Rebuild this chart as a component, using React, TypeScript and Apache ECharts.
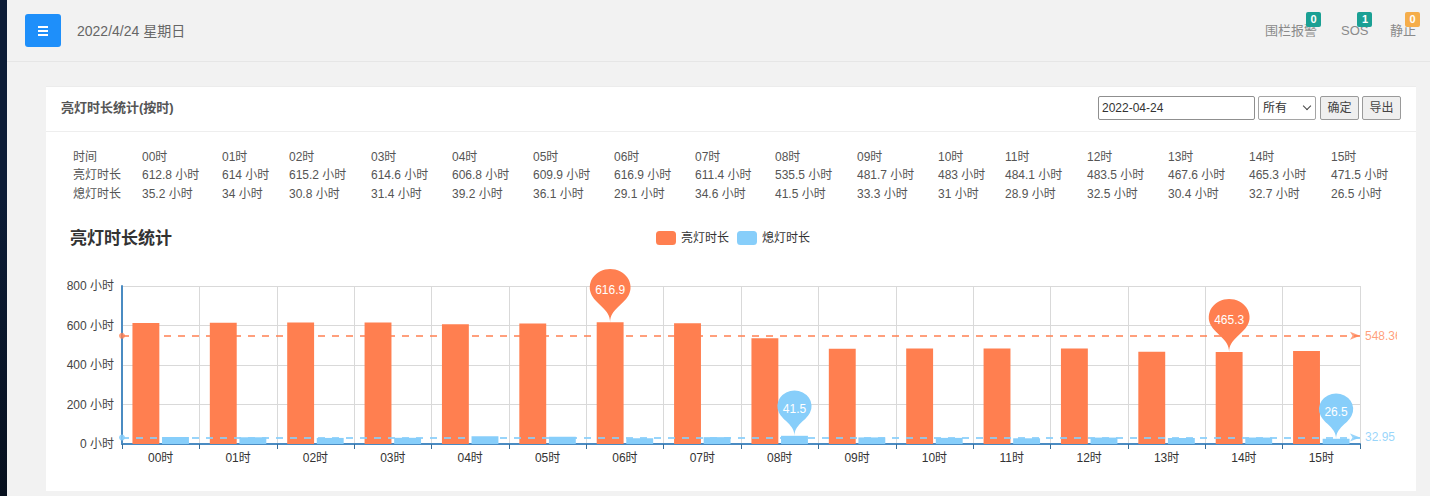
import React, { useEffect, useRef } from "react";
import * as echarts from "echarts";

const categories = ["00时", "01时", "02时", "03时", "04时", "05时", "06时", "07时", "08时", "09时", "10时", "11时", "12时", "13时", "14时", "15时"];
const onHours = [612.8, 614, 615.2, 614.6, 606.8, 609.9, 616.9, 611.4, 535.5, 481.7, 483, 484.1, 483.5, 467.6, 465.3, 471.5];
const offHours = [35.2, 34, 30.8, 31.4, 39.2, 36.1, 29.1, 34.6, 41.5, 33.3, 31, 28.9, 32.5, 30.4, 32.7, 26.5];
const seriesNames = ["亮灯时长", "熄灯时长"];
const rowLabels = ["时间", "亮灯时长", "熄灯时长"];
const unit = "小时";
const dateText = "2022/4/24 星期日";
const inputDate = "2022-04-24";
const badges = [
  { label: "围栏报警", count: "0" },
  { label: "SOS", count: "1" },
  { label: "静止", count: "0" },
];

// layout constants
const COL_LEFT = [142, 222, 289, 371, 452, 533, 614, 695, 775, 857, 938, 1005, 1087, 1168, 1249, 1331];
const FONT = '"Liberation Sans", Arial, "Noto Sans CJK SC", sans-serif';
const ORANGE = "#ff7f50";
const BLUE = "#87cefa";

function Chart() {
  const ref = useRef<HTMLDivElement>(null);
  useEffect(() => {
    if (!ref.current) return;
    const chart = echarts.init(ref.current, null, { renderer: "svg" });
    const axisColor = "#4a8bc2";
    chart.setOption({
      animation: false,
      textStyle: { fontFamily: FONT },
      title: {
        text: "亮灯时长统计",
        left: 9,
        top: 5,
        textStyle: { fontSize: 17, fontWeight: "bold", color: "#333", fontFamily: FONT },
      },
      legend: {
        data: seriesNames,
        left: 595,
        top: 6,
        itemWidth: 20,
        itemHeight: 14,
        itemGap: 8,
        textStyle: { fontSize: 12, color: "#333", fontFamily: FONT },
      },
      grid: { left: 66, right: 37, top: 66, bottom: 41 },
      xAxis: {
        type: "category",
        data: categories,
        boundaryGap: true,
        axisLine: { show: true, lineStyle: { color: axisColor, width: 2 } },
        axisTick: { show: true, length: 5, lineStyle: { color: "#3a6f9a" } },
        axisLabel: { color: "#333", fontSize: 12, margin: 8 },
        splitLine: { show: true, lineStyle: { color: "#d9d9d9" } },
      },
      yAxis: {
        type: "value",
        min: 0,
        max: 800,
        interval: 200,
        axisLine: { show: true, lineStyle: { color: axisColor, width: 2 } },
        axisTick: { show: false },
        axisLabel: { formatter: "{value} " + unit, color: "#444", fontSize: 12, margin: 8 },
        splitLine: { show: true, lineStyle: { color: "#d9d9d9" } },
      },
      series: [
        {
          name: seriesNames[0],
          type: "bar",
          data: onHours,
          itemStyle: { color: ORANGE },
          markPoint: {
            symbol: "pin",
            symbolSize: [68, 61],
            data: [
              { type: "max", name: "最大值" },
              { type: "min", name: "最小值" },
            ],
            label: { color: "#fff", fontSize: 12 },
            itemStyle: { color: ORANGE },
          },
          markLine: {
            symbol: ["circle", "arrow"],
            symbolSize: [6, 10],
            data: [{ type: "average", name: "平均值" }],
            lineStyle: { color: ORANGE, type: [7, 7], width: 2, opacity: 0.75 },
            label: { color: ORANGE, fontSize: 12, position: "end" },
          },
        },
        {
          name: seriesNames[1],
          type: "bar",
          data: offHours,
          itemStyle: { color: BLUE },
          markPoint: {
            symbol: "pin",
            symbolSize: [57, 52],
            data: [
              { type: "max", name: "最大值" },
              { type: "min", name: "最小值" },
            ],
            label: { color: "#fff", fontSize: 12 },
            itemStyle: { color: BLUE },
          },
          markLine: {
            symbol: ["circle", "arrow"],
            symbolSize: [6, 10],
            data: [{ type: "average", name: "平均值" }],
            lineStyle: { color: BLUE, type: [7, 7], width: 2, opacity: 0.85 },
            label: { color: BLUE, fontSize: 12, position: "end" },
          },
        },
      ],
    });
    return () => chart.dispose();
  }, []);
  return <div ref={ref} style={{ position: "absolute", left: 56, top: 220, width: 1341, height: 265 }} />;
}

function Badge({ count, color }: { count: string; color: string }) {
  return (
    <span
      style={{
        position: "absolute",
        right: -4,
        top: -10,
        width: 15,
        height: 15,
        borderRadius: 2,
        background: color,
        color: "#fff",
        fontSize: 11,
        fontWeight: "bold",
        lineHeight: "15px",
        textAlign: "center",
      }}
    >
      {count}
    </span>
  );
}

export default function App() {
  const badgeColors = ["#1aa094", "#1aa094", "#f5ad4a"];
  const badgeLefts = [1265, 1341, 1390];
  const rows = [
    categories,
    onHours.map((v) => `${v} ${unit}`),
    offHours.map((v) => `${v} ${unit}`),
  ];
  const rowTops = [148, 166, 185];
  return (
    <div
      style={{
        position: "absolute",
        left: 0,
        top: 0,
        width: 1430,
        height: 496,
        overflow: "hidden",
        background: "#f2f2f2",
        fontFamily: FONT,
      }}
    >
      {/* left dark strip */}
      <div style={{ position: "absolute", left: 0, top: 0, width: 7, height: 496, background: "linear-gradient(#0c1c36, #0c1c36 40%, #07101e)" }} />
      {/* top bar */}
      <div style={{ position: "absolute", left: 7, top: 0, width: 1423, height: 61, background: "#f2f2f2", borderBottom: "1px solid #e6e6e6" }} />
      <div style={{ position: "absolute", left: 25, top: 14, width: 36, height: 33, borderRadius: 3, background: "#1e8ffa" }}>
        {[0, 1, 2].map((i) => (
          <div key={i} style={{ position: "absolute", left: 13, top: 12 + i * 4, width: 10, height: 2, background: "#fff" }} />
        ))}
      </div>
      <div style={{ position: "absolute", left: 77, top: 22, fontSize: 14, color: "#666", lineHeight: "18px", whiteSpace: "nowrap" }}>{dateText}</div>
      {badges.map((b, i) => (
        <div key={b.label} style={{ position: "absolute", left: badgeLefts[i], top: 22, fontSize: 13, color: "#8a8a8a", lineHeight: "18px", whiteSpace: "nowrap" }}>
          <span style={{ position: "relative", display: "inline-block" }}>
            {b.label}
            <Badge count={b.count} color={badgeColors[i]} />
          </span>
        </div>
      ))}
      {/* panel */}
      <div style={{ position: "absolute", left: 46, top: 86, width: 1370, height: 404, background: "#fff", borderTop: "1px solid #ececec" }} />
      <div style={{ position: "absolute", left: 46, top: 131, width: 1370, height: 1, background: "#eeeeee" }} />
      <div style={{ position: "absolute", left: 61, top: 100, fontSize: 13, fontWeight: "bold", color: "#555", lineHeight: "16px", whiteSpace: "nowrap" }}>亮灯时长统计(按时)</div>
      {/* controls */}
      <div style={{ position: "absolute", left: 1098, top: 96, width: 152, height: 22, border: "1px solid #8f8f8f", borderRadius: 2, fontSize: 12, color: "#333", lineHeight: "22px", paddingLeft: 3, boxSizing: "content-box", whiteSpace: "nowrap" }}>{inputDate}</div>
      <div style={{ position: "absolute", left: 1258, top: 96, width: 56, height: 22, border: "1px solid #a5a5a5", borderRadius: 2, fontSize: 12, color: "#333", lineHeight: "22px", whiteSpace: "nowrap" }}>
        <span style={{ position: "absolute", left: 4 }}>所有</span>
        <span style={{ position: "absolute", left: 45, top: 6, width: 5, height: 5, borderRight: "1.5px solid #444", borderBottom: "1.5px solid #444", transform: "rotate(45deg)" }} />
      </div>
      {["确定", "导出"].map((t, i) => (
        <div key={t} style={{ position: "absolute", left: 1320 + i * 42, top: 96, width: 37, height: 22, border: "1px solid #9a9a9a", borderRadius: 2, background: "#efefef", fontSize: 12, color: "#444", lineHeight: "22px", textAlign: "center" }}>{t}</div>
      ))}
      {/* table */}
      {rows.map((row, r) => (
        <React.Fragment key={r}>
          <div style={{ position: "absolute", left: 73, top: rowTops[r], fontSize: 12, color: "#555", lineHeight: "18px", whiteSpace: "nowrap" }}>{rowLabels[r]}</div>
          {row.map((cell, c) => (
            <div key={c} style={{ position: "absolute", left: COL_LEFT[c], top: rowTops[r], fontSize: 12, color: "#555", lineHeight: "18px", whiteSpace: "nowrap" }}>{cell}</div>
          ))}
        </React.Fragment>
      ))}
      <Chart />
    </div>
  );
}
